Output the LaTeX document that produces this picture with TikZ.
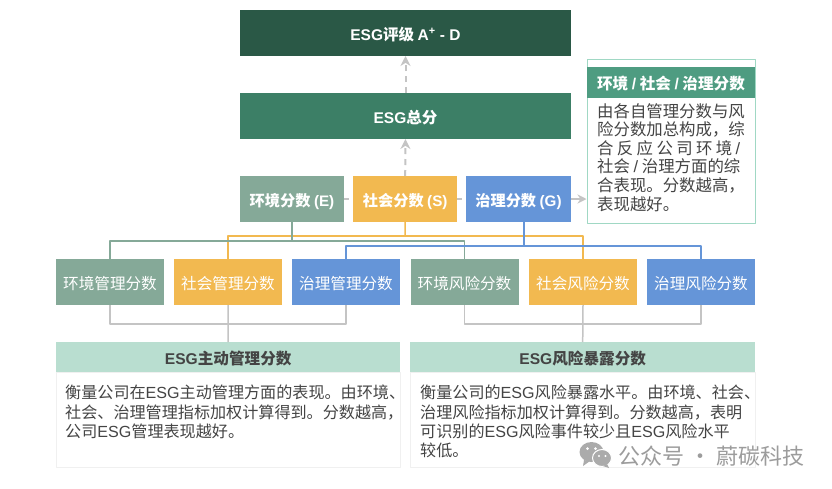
\documentclass[tikz,border=0pt]{standalone}
\usepackage{fontspec}
\setmainfont{Liberation Sans}
\newfontfamily\cjk{Noto Sans CJK SC}
\newcommand{\lat}[1]{{\rmfamily #1}}
\usetikzlibrary{arrows.meta}
\definecolor{topgreen}{HTML}{2A5846}
\definecolor{midgreen}{HTML}{3C7F66}
\definecolor{envcol}{HTML}{85A998}
\definecolor{soccol}{HTML}{F2B950}
\definecolor{govcol}{HTML}{6595D8}
\definecolor{headgreen}{HTML}{4E9C81}
\definecolor{paleborder}{HTML}{A0D8C4}
\definecolor{palegreen}{HTML}{B9DED0}
\definecolor{linegray}{HTML}{C4C4C4}
\definecolor{bodytext}{HTML}{444444}
\definecolor{marktext}{HTML}{9C9C9C}
\begin{document}
\begin{tikzpicture}[x=1pt,y=-1pt,line join=round,
    box/.style={inner sep=0pt,outer sep=0pt,text=white,align=center,text height=14pt,text depth=0pt},
    bigbox/.style={box,minimum width=331,minimum height=46,font=\fontsize{15.5}{18}\selectfont\bfseries\cjk},
    scorebox/.style={box,minimum width=104.5,minimum height=46,font=\fontsize{15.2}{18}\selectfont\bfseries\cjk},
    subbox/.style={box,minimum width=108,minimum height=46,font=\fontsize{15.6}{18}\selectfont\cjk},
    headbox/.style={box,fill=palegreen,text=bodytext,minimum width=344.5,minimum height=30,font=\fontsize{15.6}{18}\selectfont\bfseries\cjk},
    card/.style={draw=black!6,fill=white,minimum width=344.5,minimum height=95,inner sep=0pt},
    bodytxt/.style={inner sep=0pt,anchor=north west,align=left,text=bodytext,font=\fontsize{16.1}{19.2}\selectfont\cjk},
    dasharrow/.style={linegray,line width=2pt,dash pattern=on 6pt off 5pt,-{Stealth[length=10pt,width=10pt]}},
    dashline/.style={linegray,line width=1.7pt,dash pattern=on 5pt off 4pt},
    busline/.style={line width=1.5pt},
    joinline/.style={linegray,line width=1.5pt}]
    \fill[white] (0,0) rectangle (832,488);
    \useasboundingbox (0,0) rectangle (832,488);
    \coordinate (yellowbus) at (405,236);
    \coordinate (greenbus) at (292,241);
    \coordinate (bluebus) at (524,246);
    \coordinate (leftjoin) at (228,324);
    \coordinate (rightjoin) at (583,324);

    \node[bigbox,fill=topgreen] (rating) at (405.5,33) {\lat{ESG}评级 \lat{A\textsuperscript{+} - D}};
    \node[bigbox,fill=midgreen] (total) at (405.5,116) {\lat{ESG}总分};
    \node[scorebox,fill=envcol] (scoreE) at (292,199) {环境分数 \lat{(E)}};
    \node[scorebox,fill=soccol] (scoreS) at (405.2,199) {社会分数 \lat{(S)}};
    \node[scorebox,fill=govcol] (scoreG) at (518.5,199) {治理分数 \lat{(G)}};

    \node[subbox,fill=envcol] (envMgmt) at (110,282) {环境管理分数};
    \node[subbox,fill=soccol] (socMgmt) at (228,282) {社会管理分数};
    \node[subbox,fill=govcol] (govMgmt) at (346,282) {治理管理分数};
    \node[subbox,fill=envcol] (envRisk) at (464.5,282) {环境风险分数};
    \node[subbox,fill=soccol] (socRisk) at (583,282) {社会风险分数};
    \node[subbox,fill=govcol] (govRisk) at (701,282) {治理风险分数};

    \node[draw=paleborder,line width=1pt,fill=white,minimum width=168,minimum height=164,inner sep=0pt] (infocard) at (671,141) {};
    \node[box,fill=headgreen,minimum width=168,minimum height=31,font=\fontsize{15.6}{18}\selectfont\bfseries\cjk] (infohead) at (671,82.5) {环境 \lat{/} 社会 \lat{/} 治理分数};
    \node[bodytxt,font=\fontsize{16.4}{18.6}\selectfont\cjk] (infotext) at (597,103) {由各自管理分数与风\\险分数加总构成，综\\\makebox[143pt][s]{合 反 应 公 司 环 境 \lat{/}}\\社会 \lat{/} 治理方面的综\\合表现。分数越高，\\表现越好。};

    \node[card] (leftcard) at (228.2,419.5) {};
    \node[card] (rightcard) at (582.7,419.5) {};
    \node[headbox] (leftcardhead) at (228.2,357) {\lat{ESG}主动管理分数};
    \node[headbox] (rightcardhead) at (582.7,357) {\lat{ESG}风险暴露分数};
    \node[bodytxt] (lefttext) at (65,385) {衡量公司在\lat{ESG}主动管理方面的表现。由环境、\\社会、治理管理指标加权计算得到。分数越高，\\公司\lat{ESG}管理表现越好。};
    \node[bodytxt] (righttext) at (420,385) {衡量公司的\lat{ESG}风险暴露水平。由环境、社会、\\治理风险指标加权计算得到。分数越高，表明\\可识别的\lat{ESG}风险事件较少且\lat{ESG}风险水平\\较低。};

    \draw[dasharrow] (total.north) -- (rating.south);
    \draw[dasharrow] (scoreS.north) -- (total.south);
    \draw[dashline] (scoreE.east) -- (scoreS.west);
    \draw[dashline] (scoreS.east) -- (scoreG.west);
    \draw[linegray,line width=1.5pt,-{Stealth[length=9pt,width=9pt]}] (scoreG.east) -- (infocard.west |- scoreG.east);

    \draw[busline,soccol] (scoreS.south) -- (yellowbus);
    \draw[busline,soccol] (socMgmt.north) |- (yellowbus) -| (socRisk.north);
    \draw[busline,envcol] (scoreE.south) -- (greenbus);
    \draw[busline,envcol] (envMgmt.north) |- (greenbus) -| (envRisk.north);
    \draw[busline,govcol] (scoreG.south -| bluebus) -- (bluebus);
    \draw[busline,govcol] (govMgmt.north) |- (bluebus) -| (govRisk.north);

    \draw[joinline] (envMgmt.south) |- (leftjoin) -| (govMgmt.south);
    \draw[joinline] (socMgmt.south) -- (leftcardhead.north);
    \draw[joinline] (envRisk.south) |- (rightjoin) -| (govRisk.south);
    \draw[joinline] (socRisk.south) -- (rightcardhead.north);

    \fill[marktext!85] (591.5,452) ellipse (12 and 10);
    \fill[marktext!85] (584,460) -- (583,466) -- (590,461) -- cycle;
    \draw[white,fill=marktext!85,line width=1pt] (602,458) ellipse (9.5 and 8.5);
    \fill[marktext!85] (607,464) -- (609,468) -- (603,466) -- cycle;
    \fill[white] (587.5,448.5) circle (1.5) (595.5,448.5) circle (1.5) (599,456) circle (1.2) (605.5,456) circle (1.2);
    \node[inner sep=0pt,anchor=west,text=marktext,font=\fontsize{22}{24}\selectfont\cjk] (mark) at (618,456) {公众号 · 蔚碳科技};
\end{tikzpicture}
\end{document}
